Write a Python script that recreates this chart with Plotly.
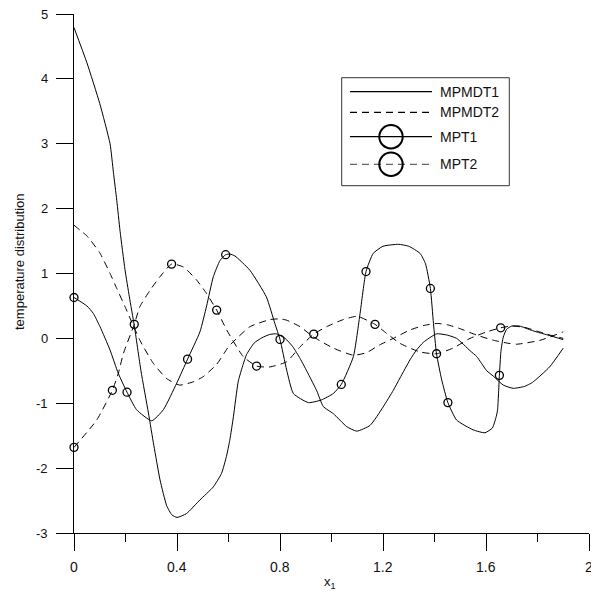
import plotly.graph_objects as go

# ---------------- data ----------------
mpmdt1_x = [0, 0.05, 0.10, 0.14, 0.153, 0.166, 0.179, 0.198, 0.215, 0.234, 0.26, 0.289, 0.31,
            0.334, 0.36, 0.38, 0.40, 0.437, 0.489, 0.541, 0.573, 0.592, 0.605, 0.619, 0.638, 0.657,
            0.67, 0.70, 0.73, 0.76, 0.787, 0.82, 0.85, 0.878, 0.91, 0.943, 0.968, 1.007, 1.059,
            1.098, 1.15, 1.20, 1.24, 1.266, 1.305, 1.33, 1.357, 1.408, 1.45, 1.486, 1.538, 1.564,
            1.603, 1.628, 1.667, 1.706, 1.75, 1.78, 1.847, 1.90]
mpmdt1_y = [4.79, 4.25, 3.62, 3.0, 2.56, 2.13, 1.65, 1.06, 0.64, 0.2, -0.5, -1.15, -1.65,
            -2.18, -2.58, -2.72, -2.76, -2.70, -2.49, -2.29, -2.08, -1.82, -1.57, -1.21, -0.66, -0.40,
            -0.25, -0.07, 0.01, 0.06, 0.07, 0.0, -0.13, -0.31, -0.55, -0.81, -1.05, -1.16, -1.36,
            -1.43, -1.34, -1.06, -0.80, -0.61, -0.33, -0.18, -0.06, 0.07, 0.05, 0.0, -0.19, -0.28,
            -0.50, -0.58, -0.72, -0.77, -0.74, -0.68, -0.44, -0.15]

mpmdt2_x = [0, 0.023, 0.05, 0.10, 0.14, 0.166, 0.198, 0.256, 0.308, 0.36, 0.41, 0.463, 0.502, 0.554,
            0.60, 0.632, 0.683, 0.761, 0.80, 0.826, 0.878, 0.929, 1.007, 1.085, 1.136, 1.187, 1.24,
            1.305, 1.36, 1.41, 1.45, 1.499, 1.564, 1.63, 1.693, 1.72, 1.81, 1.90]
mpmdt2_y = [1.745, 1.67, 1.58, 1.32, 1.0, 0.77, 0.49, -0.03, -0.385, -0.62, -0.72, -0.67, -0.59, -0.40,
            -0.13, 0.0, 0.18, 0.29, 0.30, 0.28, 0.18, 0.025, -0.15, -0.26, -0.22, -0.10, 0.0,
            0.13, 0.20, 0.23, 0.21, 0.15, 0.05, -0.03, -0.08, -0.09, -0.03, 0.10]

mpt1_x = [0, 0.05, 0.075, 0.101, 0.14, 0.172, 0.206, 0.243, 0.302, 0.347, 0.399, 0.441, 0.489,
          0.515, 0.541, 0.567, 0.589, 0.605, 0.625, 0.683, 0.747, 0.78, 0.80, 0.826, 0.852, 0.91,
          0.96, 1.007, 1.038, 1.085, 1.111, 1.134, 1.162, 1.20, 1.26, 1.30, 1.344, 1.365, 1.384,
          1.396, 1.408, 1.428, 1.452, 1.486, 1.55, 1.596, 1.625, 1.64, 1.645, 1.652, 1.658, 1.667,
          1.68, 1.70, 1.73, 1.78, 1.85, 1.90]
mpt1_y = [0.63, 0.5, 0.385, 0.18, -0.18, -0.54, -0.83, -1.10, -1.27, -1.10, -0.69, -0.32, 0.10,
          0.50, 0.95, 1.2, 1.29, 1.30, 1.27, 1.05, 0.64, 0.23, -0.016, -0.49, -0.85, -0.99,
          -0.95, -0.85, -0.71, -0.28, 0.385, 1.03, 1.31, 1.42, 1.45, 1.42, 1.31, 1.15, 0.77,
          0.23, -0.24, -0.64, -0.99, -1.26, -1.41, -1.455, -1.38, -1.2, -1.10, -0.57, -0.2, 0.02,
          0.14, 0.19, 0.19, 0.12, 0.04, -0.02]
mpt1_mx = [0, 0.206, 0.441, 0.589, 0.80, 1.038, 1.134, 1.384, 1.452, 1.652]
mpt1_my = [0.63, -0.83, -0.32, 1.29, -0.016, -0.71, 1.03, 0.77, -0.99, -0.57]

mpt2_x = [0, 0.088, 0.149, 0.172, 0.192, 0.234, 0.256, 0.295, 0.334, 0.379, 0.425, 0.476, 0.515,
          0.554, 0.593, 0.657, 0.709, 0.761, 0.826, 0.878, 0.931, 0.981, 1.046, 1.10, 1.169,
          1.214, 1.266, 1.344, 1.408, 1.472, 1.538, 1.603, 1.657, 1.70, 1.75, 1.80, 1.85, 1.90]
mpt2_y = [-1.68, -1.26, -0.80, -0.54, -0.23, 0.216, 0.49, 0.74, 0.95, 1.145, 1.10, 0.90, 0.69,
          0.436, 0.13, -0.28, -0.427, -0.44, -0.36, -0.13, 0.066, 0.18, 0.29, 0.34, 0.216,
          0.077, -0.077, -0.21, -0.237, -0.15, 0.0, 0.10, 0.163, 0.19, 0.17, 0.11, 0.05, 0.0]
mpt2_mx = [0, 0.149, 0.234, 0.379, 0.554, 0.709, 0.931, 1.169, 1.408, 1.657]
mpt2_my = [-1.68, -0.80, 0.216, 1.145, 0.436, -0.427, 0.066, 0.216, -0.237, 0.163]

series_names = ["MPMDT1", "MPMDT2", "MPT1", "MPT2"]

x_tickvals = [0, 0.4, 0.8, 1.2, 1.6, 2]
x_ticktext = ["0", "0.4", "0.8", "1.2", "1.6", "2"]
x_minorvals = [0.2, 0.6, 1.0, 1.4, 1.8]
y_tickvals = [-3, -2, -1, 0, 1, 2, 3, 4, 5]
y_ticktext = ["-3", "-2", "-1", "0", "1", "2", "3", "4", "5"]

# ---------------- figure ----------------
FONT = "Liberation Sans, Arial, sans-serif"
TXT = "#111111"
DASH = "7px,5px"
OFF = 8                       # default page margin of the html body
W, H = 599 - OFF, 594 - OFF   # figure size
# plot area in page pixels: x 74..589, y 14..533
ML, MT = 74 - OFF, 14 - OFF
MR = W - (589 - OFF)
MB = H - (533 - OFF)
PW, PH = W - ML - MR, H - MT - MB

fig = go.Figure()
line_common = dict(color="black", width=1, shape="spline", smoothing=0.5)

fig.add_trace(go.Scatter(x=mpmdt1_x, y=mpmdt1_y, mode="lines", name=series_names[0],
                         line=dict(**line_common), showlegend=False))
fig.add_trace(go.Scatter(x=mpmdt2_x, y=mpmdt2_y, mode="lines", name=series_names[1],
                         line=dict(**line_common, dash=DASH), showlegend=False))
fig.add_trace(go.Scatter(x=mpt1_x, y=mpt1_y, mode="lines", name=series_names[2],
                         line=dict(**line_common), showlegend=False))
fig.add_trace(go.Scatter(x=mpt2_x, y=mpt2_y, mode="lines", name=series_names[3],
                         line=dict(**line_common, dash=DASH), showlegend=False))
marker_style = dict(symbol="circle-open", size=8, color="black", line=dict(width=1.3, color="black"))
fig.add_trace(go.Scatter(x=mpt1_mx, y=mpt1_my, mode="markers", name=series_names[2],
                         marker=marker_style, showlegend=False, cliponaxis=False))
fig.add_trace(go.Scatter(x=mpt2_mx, y=mpt2_my, mode="markers", name=series_names[3],
                         marker=marker_style, showlegend=False, cliponaxis=False))


def px2paper(px, py):
    """page pixel -> paper coordinate"""
    fx, fy = px - OFF, py - OFF
    return (fx - ML) / PW, (H - MB - fy) / PH


shapes = []
annotations = []

# legend box
bx0, by0 = px2paper(341.7, 185.7)
bx1, by1 = px2paper(509.3, 77.7)
shapes.append(dict(type="rect", xref="paper", yref="paper", x0=bx0, y0=by0, x1=bx1, y1=by1,
                   line=dict(color="#333333", width=1), fillcolor="white", layer="above"))
rows_py = [91.7, 112.3, 136.7, 164.3]
line_styles = [("black", "solid"), ("black", DASH), ("black", "solid"), ("#666666", DASH)]
for i, (name, py) in enumerate(zip(series_names, rows_py)):
    lx0, ly = px2paper(350, py)
    lx1, _ = px2paper(432, py)
    col, dsh = line_styles[i]
    shapes.append(dict(type="line", xref="paper", yref="paper", x0=lx0, x1=lx1, y0=ly, y1=ly,
                       line=dict(color=col, width=1.2, dash=dsh), layer="above"))
    if i >= 2:
        r = 11.7
        cx0, cy0 = px2paper(391 - r, py + r)
        cx1, cy1 = px2paper(391 + r, py - r)
        shapes.append(dict(type="circle", xref="paper", yref="paper", x0=cx0, x1=cx1, y0=cy0, y1=cy1,
                           line=dict(color="black", width=2), layer="above"))
    tx, _ = px2paper(439, py)
    annotations.append(dict(text=name, xref="paper", yref="paper", x=tx, y=ly, xanchor="left",
                            yanchor="middle", showarrow=False, borderpad=0,
                            font=dict(family=FONT, size=14, color=TXT)))

# tick labels (placed explicitly so they sit exactly as in the reference)
ylab_x, _ = px2paper(48.5, 0)
for v, t in zip(y_tickvals, y_ticktext):
    annotations.append(dict(text=t, xref="paper", yref="y", x=ylab_x, y=v, xanchor="right",
                            yanchor="middle", showarrow=False, borderpad=0,
                            font=dict(family=FONT, size=13, color=TXT)))
_, xlab_y = px2paper(0, 566.5)
for v, t in zip(x_tickvals, x_ticktext):
    annotations.append(dict(text=t, xref="x", yref="paper", x=v, y=xlab_y, xanchor="center",
                            yanchor="middle", showarrow=False, borderpad=0,
                            font=dict(family=FONT, size=14, color=TXT)))

# axis titles
ax_t, ay_t = px2paper(19, 262)
annotations.append(dict(text="temperature distribution", xref="paper", yref="paper", x=ax_t, y=ay_t,
                        textangle=-90, showarrow=False, xanchor="center", yanchor="middle",
                        font=dict(family=FONT, size=13, color=TXT)))
xx_t, xy_t = px2paper(330, 582)
annotations.append(dict(text="x<sub>1</sub>", xref="paper", yref="paper", x=xx_t, y=xy_t,
                        showarrow=False, xanchor="center", yanchor="middle",
                        font=dict(family=FONT, size=13, color=TXT)))

fig.update_layout(
    width=W, height=H,
    margin=dict(l=ML, r=MR, t=MT, b=MB, pad=0, autoexpand=False),
    paper_bgcolor="white", plot_bgcolor="white",
    showlegend=False,
    shapes=shapes, annotations=annotations,
    xaxis=dict(range=[0, 2], showgrid=False, zeroline=False, showline=True, linecolor="black",
               linewidth=1, ticks="outside", ticklen=17, tickwidth=1, tickcolor="black",
               tickvals=x_tickvals, showticklabels=False,
               minor=dict(tickvals=x_minorvals, ticks="outside", ticklen=8, tickwidth=1,
                          tickcolor="black", showgrid=False)),
    yaxis=dict(range=[-3, 5], showgrid=False, zeroline=False, showline=True, linecolor="black",
               linewidth=1, ticks="outside", ticklen=17, tickwidth=1, tickcolor="black",
               tickvals=y_tickvals, showticklabels=False),
)

fig.write_html("out.html")
